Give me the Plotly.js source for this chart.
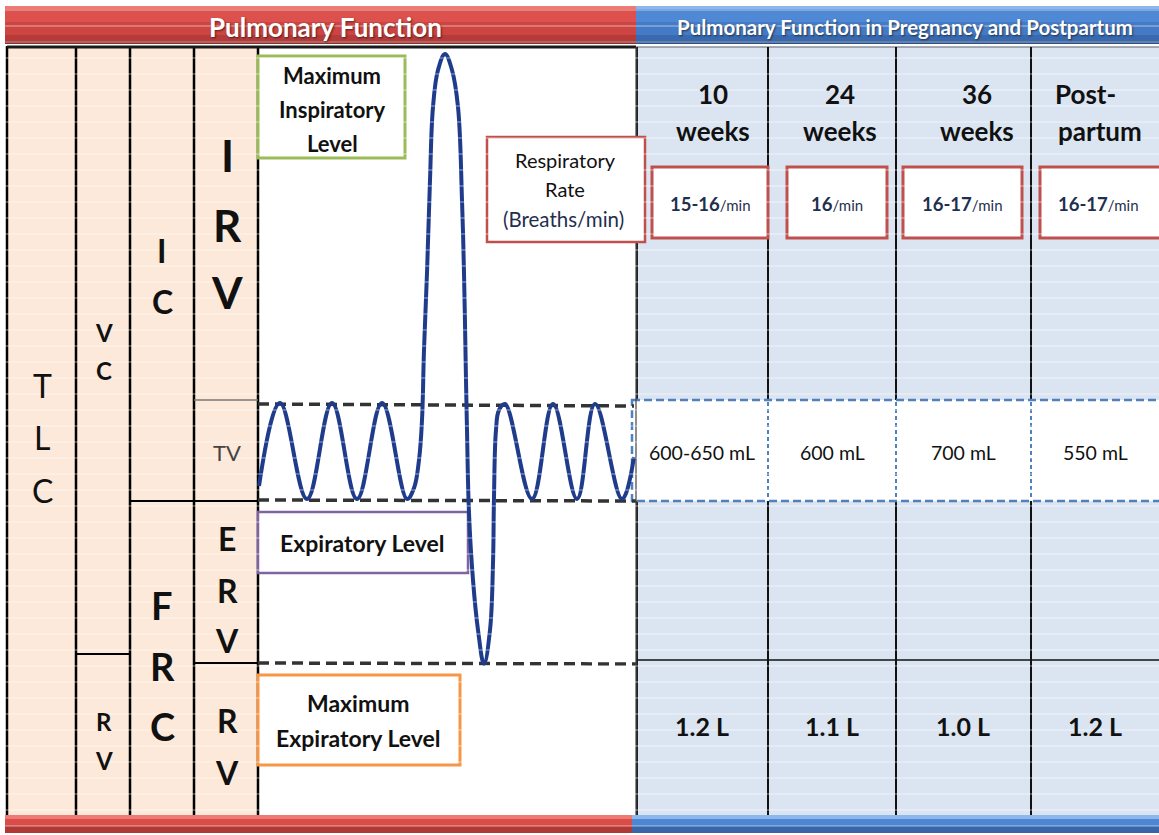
<!DOCTYPE html>
<html>
<head>
<meta charset="utf-8">
<script src="https://cdn.plot.ly/plotly-3.0.1.min.js"></script>
<style>html,body{margin:0;padding:0;background:#fff;}#chart{width:1159px;height:835px;}</style>
</head>
<body>
<div id="chart"></div>
<script>
// ---------------- DATA ----------------
const periodLine1 = ['10', '24', '36', 'Post-'];
const periodLine2 = ['weeks', 'weeks', 'weeks', 'partum'];
const respRate = ['15-16', '16', '16-17', '16-17'];
const tidalVolume = ['600-650 mL', '600 mL', '700 mL', '550 mL'];
const residualVolume = ['1.2 L', '1.1 L', '1.0 L', '1.2 L'];

// spirogram trace (x = time position, y = level in picture units, top = 0)
const curveX = [259, 280, 307, 332, 357, 382, 407, 414, 419, 422, 424, 427, 430, 433, 438, 445, 452, 458, 462, 464, 466, 467, 469, 473, 478, 484, 490, 493, 494, 496, 499, 505, 532, 553, 577, 595, 622, 634];
const curveY = [486, 403, 499, 403, 499, 403, 499, 488, 460, 420, 350, 273, 180, 107, 70, 54, 70, 107, 200, 273, 380, 430, 513, 580, 630, 664, 630, 563, 497, 430, 410, 404, 499, 404, 499, 404, 499, 457];

// ---------------- LAYOUT HELPERS ----------------
const FONT = 'Lato, "Open Sans", "DejaVu Sans", sans-serif';
const shapes = [];
const annotations = [];
function rect(x0, y0, x1, y1, fill, line, extra) {
  shapes.push(Object.assign({type: 'rect', xref: 'x', yref: 'y', x0, y0, x1, y1,
    fillcolor: fill || 'rgba(0,0,0,0)', line: line || {width: 0}, layer: 'below'}, extra || {}));
}
function seg(x0, y0, x1, y1, color, width, dash, layer) {
  shapes.push({type: 'line', xref: 'x', yref: 'y', x0, y0, x1, y1,
    line: {color, width, dash: dash || 'solid'}, layer: layer || 'below'});
}
function txt(x, y, text, size, opts) {
  opts = opts || {};
  annotations.push({x, y, xref: 'x', yref: 'y', text, showarrow: false,
    xanchor: opts.xanchor || 'center', yanchor: 'middle',
    font: Object.assign({family: FONT, size, color: opts.color || '#111'}, opts.font || {})});
}

// backgrounds
rect(7, 47, 258, 815, '#fde9d9');
rect(258, 47, 636, 815, '#ffffff');
rect(636, 47, 1159, 815, '#dbe5f1');

// header bars (gradient imitation)
const redBands = [[6, 9, '#ee7a76'], [9, 22, '#dc514d'], [22, 35, '#cc4542'], [35, 41, '#b53a38'], [41, 44, '#8f2b2a']];
const blueBands = [[6, 9, '#8db6ec'], [9, 22, '#4f88d4'], [22, 35, '#457bc6'], [35, 41, '#3a69ad'], [41, 44, '#2c5189']];
redBands.forEach(b => rect(5, b[0], 636, b[1], b[2]));
blueBands.forEach(b => rect(636, b[0], 1159, b[1], b[2]));
const redBot = [[815, 819, '#ee7a76'], [819, 826, '#d94c48'], [826, 833, '#b23836']];
const blueBot = [[815, 819, '#8db6ec'], [819, 826, '#4d86d2'], [826, 833, '#3866a8']];
redBot.forEach(b => rect(5, b[0], 632, b[1], b[2]));
blueBot.forEach(b => rect(632, b[0], 1159, b[1], b[2]));

// left table grid
[7, 76, 130, 194, 258].forEach(x => seg(x, 46, x, 815, '#000', 2.5));
seg(7, 47, 636, 47, '#1a1a1a', 3);
seg(636, 47, 1159, 47, '#8a8f99', 1.5);
seg(194, 400, 258, 400, '#777', 1.5);
seg(130, 501, 258, 501, '#000', 2);
seg(76, 654, 130, 654, '#000', 2);
seg(194, 663, 258, 663, '#000', 2);

// right table grid
seg(637, 47, 637, 815, '#222', 2);
[768, 896, 1031].forEach(x => seg(x, 47, x, 815, '#111', 2));
seg(637, 660, 1159, 660, '#111', 1.5);

// respiratory rate boxes
const rateBoxes = [[652, 768], [787, 887], [903, 1022], [1040, 1170]];
rateBoxes.forEach(b => rect(b[0], 167, b[1], 238, '#ffffff', {color: '#c0504d', width: 3}));

// tidal volume dashed box
rect(632, 400, 1170, 501, '#ffffff', {color: '#4f81bd', width: 2.5, dash: '8px,4px'});
[768, 896, 1031].forEach(x => seg(x, 402, x, 499, '#4f81bd', 2, '4px,3px'));

// middle panel dashed reference lines
seg(258, 404, 634, 406, '#333', 3.5, '11px,6px');
seg(258, 500, 636, 501, '#333', 3.5, '11px,6px');
seg(258, 663, 636, 664, '#333', 3.5, '11px,6px');
seg(636, 47, 636, 815, '#444', 1.2);

// label boxes
rect(258, 56, 405, 158, '#ffffff', {color: '#9bbb59', width: 3});
rect(487, 137, 645, 242, '#ffffff', {color: '#c0504d', width: 2.5});
rect(258, 512, 468, 573, '#ffffff', {color: '#8064a2', width: 2.5});
rect(258, 675, 460, 765, '#ffffff', {color: '#f79646', width: 3});

// faint scan lines
for (let y = 10; y < 835; y += 16) {
  shapes.push({type: 'line', xref: 'x', yref: 'y', x0: 0, x1: 1159, y0: y, y1: y,
    line: {color: 'rgba(255,255,255,0.55)', width: 1}, layer: 'above'});
}

// ---------------- TEXT ----------------
const shadow = '1px 1px 2px rgba(0,0,0,0.55)';
txt(325, 27, '<b>Pulmonary Function</b>', 26, {color: '#ffffff', font: {shadow}});
txt(905, 27, '<b>Pulmonary Function in Pregnancy and Postpartum</b>', 20.5, {color: '#ffffff', font: {shadow}});

// left volume labels
txt(42, 385, 'T', 32); txt(42, 437, 'L', 32); txt(42, 490, 'C', 32);
txt(104, 332, '<b>V</b>', 24); txt(104, 370, '<b>C</b>', 24);
txt(104, 721, '<b>R</b>', 24); txt(104, 760, '<b>V</b>', 24);
txt(162, 250, '<b>I</b>', 32); txt(162, 301, '<b>C</b>', 32);
txt(162, 605, '<b>F</b>', 38); txt(162, 666, '<b>R</b>', 38); txt(162, 726, '<b>C</b>', 38);
txt(227, 155, '<b>I</b>', 44); txt(227, 225, '<b>R</b>', 44); txt(227, 292, '<b>V</b>', 44);
txt(227, 452, 'TV', 22, {color: '#444'});
txt(227, 538, '<b>E</b>', 32); txt(227, 590, '<b>R</b>', 32); txt(227, 640, '<b>V</b>', 32);
txt(227, 720, '<b>R</b>', 32); txt(227, 772, '<b>V</b>', 32);

// middle panel labels
txt(332, 75, '<b>Maximum</b>', 22); txt(332, 109, '<b>Inspiratory</b>', 22); txt(332, 143, '<b>Level</b>', 22);
txt(565, 160, 'Respiratory', 20); txt(565, 189, 'Rate', 20); txt(563, 219, '(Breaths/min)', 20.5, {color: '#1f2f4f'});
txt(362, 543, '<b>Expiratory Level</b>', 23);
txt(358, 703, '<b>Maximum</b>', 23); txt(358, 738, '<b>Expiratory Level</b>', 23);

// right table values
const line1X = [713, 840, 977, 1085];
const line2X = [713, 840, 977, 1100];
const rateX = [710, 837, 962, 1098];
const colCenter = [702, 832, 963, 1095];
periodLine1.forEach((t, i) => txt(line1X[i], 94, '<b>' + t + '</b>', 26));
periodLine2.forEach((t, i) => txt(line2X[i], 131, '<b>' + t + '</b>', 26));
respRate.forEach((t, i) => txt(rateX[i], 204, '<b>' + t + '</b><span style="font-size:15px;font-weight:normal">/min</span>', 18.5, {color: '#1f2f4f'}));
tidalVolume.forEach((t, i) => txt(colCenter[i], 452, t, 19.5));
residualVolume.forEach((t, i) => txt(colCenter[i], 726, '<b>' + t + '</b>', 25));

// ---------------- PLOT ----------------
const trace = {
  x: curveX, y: curveY, type: 'scatter', mode: 'lines',
  line: {color: '#1f3b8c', width: 4, shape: 'spline', smoothing: 1.1},
  hoverinfo: 'skip', showlegend: false
};
const layout = {
  width: 1159, height: 835,
  margin: {l: 0, r: 0, t: 0, b: 0, pad: 0},
  paper_bgcolor: '#ffffff', plot_bgcolor: 'rgba(0,0,0,0)',
  xaxis: {range: [0, 1159], visible: false, fixedrange: true},
  yaxis: {range: [835, 0], visible: false, fixedrange: true},
  shapes, annotations, showlegend: false
};
Plotly.newPlot('chart', [trace], layout, {displayModeBar: false, staticPlot: true});
</script>
</body>
</html>
